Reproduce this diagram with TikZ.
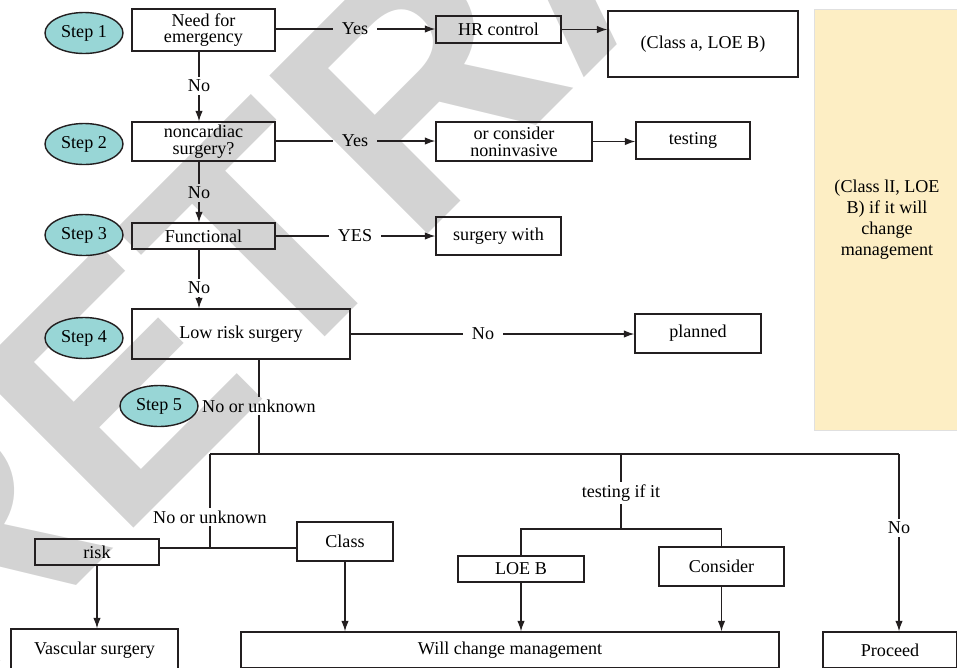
\documentclass[tikz,border=0pt]{standalone}
\usepackage{fontspec}
\setmainfont{Liberation Serif}
\newfontfamily\wmfont{Liberation Sans}
\usetikzlibrary{shapes.geometric}
\usetikzlibrary{arrows.meta}
\definecolor{steppill}{RGB}{152,214,214}
\definecolor{notepad}{RGB}{253,238,196}
\definecolor{wmgray}{RGB}{211,211,211}
\definecolor{ink}{RGB}{35,31,32}
\tikzset{
	stepbox/.style={ellipse, draw=ink, line width=0.8pt, fill=steppill, minimum width=78*0.02cm, minimum height=41*0.02cm, inner sep=0pt},
	box/.style 2 args={draw=ink, line width=0.8pt, minimum width=#1*0.02cm, minimum height=#2*0.02cm, inner sep=0pt, align=center},
	lbl/.style={inner xsep=5pt, inner ysep=1.5pt},
	link/.style={ink, line width=0.7pt},
	note/.style={draw=black!12, fill=notepad, minimum width=146*0.02cm, minimum height=421*0.02cm, align=center, font=\fontsize{10.3}{11.9}\selectfont},
	wm/.style={rotate=45, anchor=base west, inner sep=0pt, text=wmgray, font=\wmfont\bfseries\fontsize{185}{185}\selectfont},
	>={Latex[length=2.1mm,width=1.5mm]}
}
\newcommand{\stepoval}[4] % name, x in px, y in px, number
{
	\node[stepbox] (#1) at (#2,#3) {Step #4};
}

\begin{document}
\begin{tikzpicture}[x=0.02cm, y=-0.02cm, every node/.style={font=\fontsize{10.3}{9.5}\selectfont}]
	% frame 957 x 667 px
	\useasboundingbox (0,0) rectangle (957,667);
	\clip (0,0) rectangle (957,667);
	% watermark
	\node[wm] (wm) at (-47.5,709.5) {RETRACTED};
	% side note
	\node[note] (note) at (887,219.5) {(Class lI, LOE\\B) if it will\\change\\management};
	
	% steps
	\stepoval{s1}{84}{33}{1}
	\stepoval{s2}{84}{144}{2}
	\stepoval{s3}{84}{235}{3}
	\stepoval{s4}{84}{338}{4}
	\stepoval{s5}{159}{406}{5}
	
	% boxes, upper part
	\node[box={143}{42}] (emerg) at (203.5,30) {Need for\\emergency};
	\node[box={143}{39}] (noncard) at (203.5,141.5) {noncardiac\\surgery?};
	\node[box={143}{26}] (func) at (203.5,236) {Functional};
	\node[box={218}{50}] (lowrisk) at (241,334) {Low risk surgery};
	\node[box={125}{27}] (hr) at (498.5,29.5) {HR control};
	\node[box={190}{66}] (classa) at (703,44) {(Class a, LOE B)};
	\node[box={156}{39}] (orcons) at (514,141.5) {or consider\\noninvasive};
	\node[box={114}{37}] (testing) at (693,140.5) {testing};
	\node[box={125}{38}] (surgw) at (498.5,236) {surgery with};
	\node[box={126}{39}] (planned) at (698,333.5) {planned};
	
	% boxes, lower part
	\node[box={124}{26}] (risk) at (97,552) {risk};
	\node[box={96}{39}] (class) at (345,541.5) {Class};
	\node[box={126}{26}] (loeb) at (521,569) {LOE B};
	\node[box={125}{39}] (consider) at (721.5,566.5) {Consider};
	\node[box={167}{42}] (vasc) at (94.5,650) {Vascular surgery};
	\node[box={538}{36}] (will) at (510,650) {Will change management};
	\node[box={134}{36}] (proceed) at (890,650) {Proceed};
	
	% labels
	\node[lbl] (y1) at (355,29) {Yes};
	\node[lbl] (y2) at (355,141) {Yes};
	\node[lbl] (y3) at (355,236) {YES};
	\node[lbl] (n1) at (199,86) {No};
	\node[lbl] (n2) at (199,193) {No};
	\node[lbl] (n3) at (199,288) {No};
	\node[lbl] (n4) at (483,334) {No};
	\node[lbl] (nu1) at (259,406) {No or unknown};
	\node[lbl] (nu2) at (210,517) {No or unknown};
	\node[lbl] (tif) at (621,493) {testing if it};
	\node[lbl] (n5) at (899,528) {No};
	
	% junctions
	\coordinate (j0) at (259,454);
	\coordinate (jl) at (210,454);
	\coordinate (jm) at (621,454);
	\coordinate (jr) at (899,454);
	\coordinate (jlo) at (210,548);
	\coordinate (jmo) at (621,529);
	
	% main column
	\draw[link] (emerg.south -| n1) -- (n1);
	\draw[link,->] (n1) -- (n1 |- noncard.north);
	\draw[link] (noncard.south -| n2) -- (n2);
	\draw[link,->] (n2) -- (n2 |- func.north);
	\draw[link] (func.south -| n3) -- (n3);
	\draw[link,->] (n3) -- (n3 |- lowrisk.north);
	
	% yes branches
	\draw[link] (emerg.east |- y1) -- (y1);
	\draw[link,->] (y1) -- (y1 -| hr.west);
	\draw[link,->] (hr) -- (hr -| classa.west);
	\draw[link] (noncard.east |- y2) -- (y2);
	\draw[link,->] (y2) -- (y2 -| orcons.west);
	\draw[link,->] (orcons) -- (orcons -| testing.west);
	\draw[link] (func.east |- y3) -- (y3);
	\draw[link,->] (y3) -- (y3 -| surgw.west);
	\draw[link] (lowrisk.east |- n4) -- (n4);
	\draw[link,->] (n4) -- (n4 -| planned.west);
	
	% lower tree
	\draw[link] (lowrisk.south -| nu1) -- (nu1);
	\draw[link] (nu1) -- (j0);
	\draw[link] (jl) -- (jr);
	\draw[link] (jl) -- (nu2);
	\draw[link] (nu2) -- (jlo);
	\draw[link] (risk.east |- jlo) -- (class.west |- jlo);
	\draw[link,->] (risk) -- (risk |- vasc.north);
	\draw[link,->] (class) -- (class |- will.north);
	\draw[link] (jm) -- (tif);
	\draw[link] (tif) -- (jmo);
	\draw[link] (loeb.north) |- (jmo) -| (consider.north);
	\draw[link,->] (loeb) -- (loeb |- will.north);
	\draw[link,->] (consider) -- (consider |- will.north);
	\draw[link] (jr) -- (n5);
	\draw[link,->] (n5) -- (n5 |- proceed.north);
\end{tikzpicture}
\end{document}
